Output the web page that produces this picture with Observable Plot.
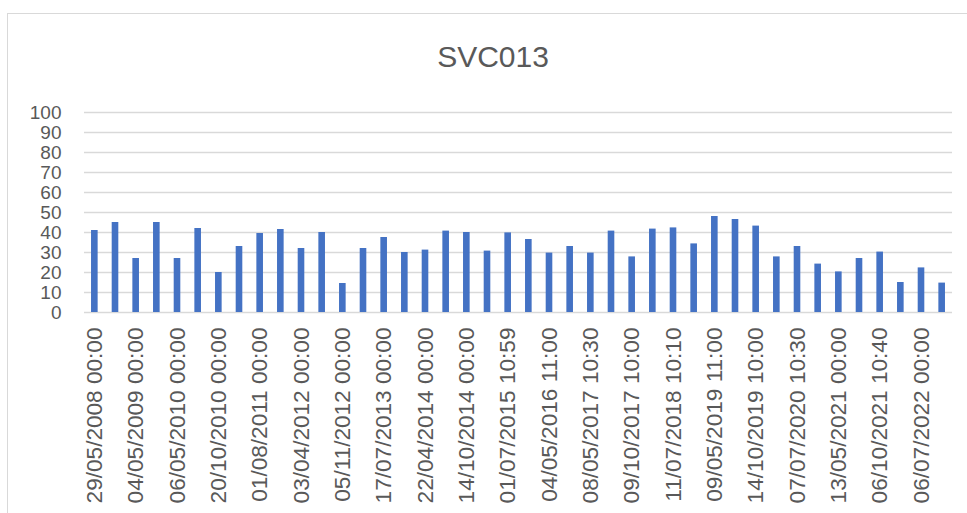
<!DOCTYPE html>
<html>
<head>
<meta charset="utf-8">
<script src="https://cdn.jsdelivr.net/npm/d3@7"></script>
<script src="https://cdn.jsdelivr.net/npm/@observablehq/plot@0.6"></script>
<style>
  html, body { margin: 0; padding: 0; background: #fff; overflow: hidden; }
  body { width: 967px; height: 513px; position: relative; font-family: "Liberation Sans", Arial, sans-serif; }
  #frame { position: absolute; left: 7px; top: 13px; width: 1000px; height: 600px; border: 1px solid #d9d9d9; box-sizing: border-box; }
  #title { position: absolute; left: 0; top: 42px; width: 986px; text-align: center; font-size: 30px; line-height: 30px; color: #595959; }
  #chart { position: absolute; left: 0; top: 90px; }
</style>
</head>
<body>
<div id="frame"></div>
<div id="title">SVC013</div>
<div id="chart"></div>
<script>
// Labels shown on the x axis (every second bar is labelled)
const tickLabels = [
  "29/05/2008 00:00", "04/05/2009 00:00", "06/05/2010 00:00", "20/10/2010 00:00",
  "01/08/2011 00:00", "03/04/2012 00:00", "05/11/2012 00:00", "17/07/2013 00:00",
  "22/04/2014 00:00", "14/10/2014 00:00", "01/07/2015 10:59", "04/05/2016 11:00",
  "08/05/2017 10:30", "09/10/2017 10:00", "11/07/2018 10:10", "09/05/2019 11:00",
  "14/10/2019 10:00", "07/07/2020 10:30", "13/05/2021 00:00", "06/10/2021 10:40",
  "06/07/2022 00:00"
];
// Bar values (42 bars)
const values = [
  41, 45, 27, 45, 27, 42, 20, 33, 39.5, 41.5,
  32, 40, 14.5, 32, 37.5, 30, 31.2, 40.7, 40, 30.7,
  39.8, 36.5, 29.7, 33, 29.7, 40.7, 27.8, 41.7, 42.3, 34.3,
  48, 46.5, 43.2, 27.8, 33, 24.2, 20.3, 27, 30.2, 15,
  22.3, 14.7
];
const yTicks = [0, 10, 20, 30, 40, 50, 60, 70, 80, 90, 100];

const data = values.map((v, i) => ({i, v}));
const labelled = d3.range(0, values.length, 2);

const chart = Plot.plot({
  width: 967,
  height: 423,
  marginTop: 22,
  marginBottom: 201,
  marginLeft: 84,
  marginRight: 15,
  style: {fontFamily: "Liberation Sans, Arial, sans-serif", background: "transparent"},
  x: {type: "band", domain: d3.range(values.length), paddingInner: 0.68, paddingOuter: 0.34, round: false},
  y: {domain: [0, 100]},
  marks: [
    Plot.ruleY(yTicks, {stroke: "#d9d9d9", strokeWidth: 1.3}),
    Plot.barY(data, {x: "i", y: "v", fill: "#4472c4"}),
    Plot.axisY({ticks: yTicks, tickSize: 0, tickPadding: 23, fontSize: 19, fill: "#595959", label: null}),
    Plot.axisX({ticks: labelled, tickSize: 0, tickRotate: -90, tickPadding: 15, fontSize: 22.6, fill: "#595959", label: null,
      tickFormat: i => tickLabels[i / 2]})
  ]
});
document.getElementById("chart").appendChild(chart);
</script>
</body>
</html>
